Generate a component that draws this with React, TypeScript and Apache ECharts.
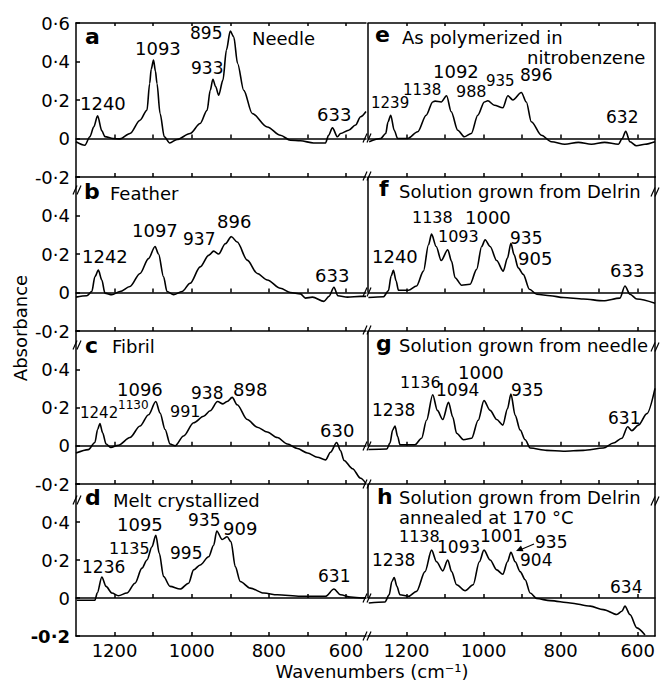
import React, { useEffect, useRef } from "react";
import * as echarts from "echarts";

const FONT = '"DejaVu Sans", "Liberation Sans", sans-serif';

// Spectra: [wavenumber (cm-1), absorbance]
const specA = [[1300,-0.017],[1277,-0.035],[1264,0.009],[1254,0.06],[1244,0.118],[1233,0.04],[1225,0.01],[1204,0.0],[1186,-0.002],[1160,0.026],[1134,0.095],[1116,0.147],[1109,0.286],[1105,0.36],[1099,0.407],[1094,0.35],[1090,0.286],[1082,0.13],[1071,0.009],[1057,-0.023],[1038,-0.005],[1004,0.026],[978,0.078],[960,0.147],[952,0.25],[945,0.308],[938,0.27],[930,0.225],[919,0.303],[910,0.459],[900,0.558],[891,0.528],[881,0.39],[865,0.25],[843,0.13],[804,0.06],[770,0.017],[744,-0.009],[718,-0.012],[684,-0.023],[653,-0.023],[645,0.017],[635,0.055],[622,0.009],[614,0.026],[593,0.043],[575,0.07],[562,0.113],[548,0.14]];
const specB = [[1300,-0.024],[1272,-0.017],[1259,0.005],[1251,0.082],[1242,0.116],[1233,0.065],[1225,-0.003],[1207,-0.012],[1186,0.005],[1160,0.031],[1134,0.099],[1112,0.176],[1095,0.239],[1086,0.2],[1073,0.082],[1064,0.005],[1047,-0.012],[1025,0.005],[1004,0.048],[978,0.133],[956,0.193],[943,0.215],[930,0.2],[913,0.253],[897,0.29],[882,0.262],[856,0.168],[830,0.099],[804,0.065],[770,0.022],[744,0],[718,-0.007],[705,-0.029],[687,-0.024],[657,-0.046],[644,-0.02],[631,0.027],[621,-0.017],[596,-0.024],[562,-0.02],[548,-0.02]];
const specC = [[1300,-0.038],[1268,-0.02],[1251,0.017],[1244,0.085],[1238,0.116],[1231,0.068],[1222,0.009],[1210,-0.009],[1190,0.003],[1160,0.043],[1134,0.103],[1112,0.162],[1093,0.231],[1082,0.171],[1069,0.085],[1056,0.009],[1043,0],[1021,0.051],[995,0.12],[969,0.154],[952,0.183],[933,0.231],[919,0.219],[908,0.231],[895,0.253],[882,0.214],[856,0.137],[830,0.097],[804,0.072],[778,0.043],[752,0.009],[726,-0.014],[700,-0.038],[674,-0.06],[653,-0.074],[640,-0.034],[624,0.017],[614,-0.026],[605,-0.077],[583,-0.12],[562,-0.17],[548,-0.198]];
const specD = [[1298,-0.012],[1251,-0.012],[1245,0.026],[1233,0.11],[1222,0.061],[1207,0.026],[1190,0.012],[1168,0.026],[1147,0.078],[1129,0.157],[1116,0.2],[1103,0.27],[1093,0.33],[1084,0.235],[1073,0.113],[1056,0.061],[1030,0.047],[1008,0.078],[995,0.148],[978,0.174],[956,0.217],[943,0.278],[935,0.353],[921,0.308],[908,0.322],[898,0.296],[887,0.165],[874,0.087],[848,0.052],[813,0.026],[778,0.017],[718,0.009],[653,0.009],[631,0.047],[614,0.017],[588,0.005],[560,0.0],[548,0.003]];
const specE = [[1297,-0.017],[1267,0.0],[1254,0.026],[1248,0.087],[1241,0.121],[1232,0.043],[1223,0],[1197,0],[1171,0.035],[1149,0.121],[1132,0.19],[1126,0.194],[1110,0.19],[1096,0.222],[1084,0.139],[1067,0.043],[1050,0.009],[1032,0.026],[1015,0.121],[998,0.19],[989,0.196],[972,0.173],[950,0.16],[937,0.222],[924,0.2],[902,0.239],[889,0.19],[876,0.087],[850,0.017],[824,-0.017],[789,-0.03],[754,-0.02],[720,-0.03],[686,-0.02],[650,-0.03],[640,0],[631,0.038],[620,-0.017],[603,-0.038],[581,-0.03],[555,-0.017]];
const specF = [[1299,-0.026],[1260,-0.022],[1247,0.009],[1240,0.085],[1234,0.115],[1227,0.06],[1221,0.012],[1195,0.012],[1174,0.034],[1156,0.111],[1143,0.248],[1135,0.303],[1123,0.239],[1110,0.166],[1093,0.222],[1083,0.162],[1074,0.077],[1057,0.038],[1035,0.043],[1018,0.12],[1005,0.239],[996,0.274],[983,0.239],[966,0.166],[949,0.111],[938,0.179],[929,0.256],[921,0.197],[910,0.128],[897,0.094],[881,0.017],[862,-0.009],[827,-0.017],[793,-0.026],[741,-0.034],[689,-0.043],[646,-0.029],[633,0.034],[620,-0.009],[602,-0.034],[555,-0.056]];
const specG = [[1299,-0.02],[1251,-0.017],[1243,0.014],[1236,0.082],[1230,0.103],[1223,0.048],[1217,0.005],[1178,0.005],[1161,0.039],[1148,0.133],[1132,0.267],[1120,0.185],[1106,0.137],[1091,0.227],[1080,0.15],[1070,0.065],[1052,0.031],[1031,0.039],[1014,0.133],[999,0.236],[983,0.185],[966,0.137],[950,0.108],[938,0.193],[929,0.27],[918,0.159],[905,0.082],[892,0.031],[879,-0.012],[836,-0.024],[793,-0.029],[741,-0.024],[689,-0.012],[663,0.014],[641,0.039],[626,0.099],[615,0.079],[598,0.108],[576,0.168],[555,0.3]];
const specH = [[1298,-0.026],[1256,-0.021],[1245,0.017],[1238,0.087],[1232,0.108],[1225,0.061],[1217,0.017],[1195,0.009],[1174,0.035],[1152,0.139],[1135,0.252],[1122,0.191],[1106,0.143],[1093,0.2],[1083,0.139],[1070,0.07],[1048,0.038],[1027,0.07],[1011,0.191],[999,0.252],[983,0.2],[966,0.148],[950,0.125],[938,0.191],[929,0.24],[918,0.191],[905,0.139],[892,0.096],[879,0.026],[862,-0.003],[827,-0.014],[775,-0.026],[723,-0.043],[689,-0.061],[654,-0.087],[641,-0.07],[633,-0.043],[620,-0.087],[602,-0.157],[581,-0.195]];

const SPECTRA = [specA, specB, specC, specD, specE, specF, specG, specH];

const X_TICKS = [1200, 1100, 1000, 900, 800, 700, 600];
const X_TICK_LABELS = [1200, 1000, 800, 600];

const LETTERS = ["a", "b", "c", "d", "e", "f", "g", "h"];
const TITLES = ["Needle", "Feather", "Fibril", "Melt crystallized", "As polymerized in", "Solution grown from Delrin", "Solution grown from needle", "Solution grown from Delrin"];
const SUBTITLES = ["", "", "", "", "nitrobenzene", "", "", "annealed at 170 °C"];

const PEAKS = [
  ["1240", "1093", "895", "933", "633"],
  ["1242", "1097", "937", "896", "633"],
  ["1242", "1130", "1096", "991", "938", "898", "630"],
  ["1095", "935", "909", "1135", "995", "1236", "631"],
  ["1239", "1138", "1092", "988", "935", "896", "632"],
  ["1138", "1000", "1093", "935", "1240", "905", "633"],
  ["1000", "1136", "1094", "935", "1238", "631"],
  ["1138", "1093", "1001", "935", "904", "1238", "634"],
];

const Y_TITLE = "Absorbance";
const X_TITLE = "Wavenumbers (cm⁻¹)";

// ---------- layout (pixels) ----------
const COLS = [{ left: 76, width: 290, min: 548 }, { left: 368, width: 287, min: 555 }];
const ROWS = [{ top: 23, height: 154 }, { top: 177, height: 154 }, { top: 331, height: 153 }, { top: 484, height: 152 }];
const LETTER_POS = [[85, 36], [84, 191], [85, 345], [85, 497], [375, 34.5], [379, 188], [376, 343], [377, 496]];
const TITLE_POS = [[252, 38], [110, 193], [112, 346], [113, 500], [402, 37], [399, 191], [399, 345], [399, 497]];
const SUBTITLE_POS = [null, null, null, null, [527, 57], null, null, [399, 517]];
const PEAK_POS = [
  [[80, 103, 18], [135, 48.5, 18], [190, 33, 17], [191, 68, 17], [317, 114, 18]],
  [[82, 256, 18], [132, 230, 18], [183, 239, 17], [217, 221, 18], [315, 275, 18]],
  [[80, 413, 15], [118, 405, 12], [117, 389, 18], [170, 411, 16], [191, 393, 17], [233, 389, 18], [320, 430, 18]],
  [[117, 524, 18], [188, 520, 17], [223, 528, 18], [109, 548, 16], [170, 553, 17], [82, 567, 17], [318, 576, 17]],
  [[371, 103, 15], [403, 90, 15], [433, 71, 18], [456, 91, 16], [486, 81, 15], [520, 75, 17], [606, 116.5, 17]],
  [[412, 217, 16], [465, 217, 18], [438, 236, 16], [510, 238, 17], [372, 256, 18], [518, 258, 18], [610, 270, 18]],
  [[458, 372, 18], [400, 382, 16], [436, 390, 17], [511, 390, 17], [372, 410, 17], [608, 418, 17]],
  [[399, 536, 16], [437, 547, 17], [480, 536, 17], [535, 542, 17], [520, 560, 17], [372, 560, 17], [610, 587, 17]],
];
const BREAKS = [
  [367, 138], [367, 292], [367, 446], [367, 598],
  [367, 176], [367, 330], [367, 484], [367, 636],
  [77, 190], [77, 345], [77, 500],
  [655, 192], [655, 347], [655, 501],
];

const BLACK = "#000";
const LINE = { color: BLACK, width: 1.5 };
const TICK = { color: BLACK, width: 1.5 };

function fmtY(v: number) {
  if (Math.abs(v) < 1e-9) return "0";
  return (v < 0 ? "-" : "") + "0·" + Math.round(Math.abs(v) * 10);
}

function buildOption() {
  const grid: any[] = [];
  const xAxis: any[] = [];
  const yAxis: any[] = [];
  const series: any[] = [];
  for (let c = 0; c < 2; c++) {
    for (let r = 0; r < 4; r++) {
      const i = c * 4 + r;
      const col = COLS[c];
      const row = ROWS[r];
      grid.push({ left: col.left, top: row.top, width: col.width, height: row.height, outerBoundsMode: "none" });
      const base = {
        gridIndex: i, type: "value", inverse: true, min: col.min, max: 1300,
        splitLine: { show: false },
      };
      const bottomIdx = xAxis.length;
      xAxis.push({
        ...base, position: "bottom",
        axisLine: { show: true, onZero: false, lineStyle: LINE },
        axisTick: { show: true, inside: true, length: 4, customValues: X_TICKS, lineStyle: TICK },
        axisLabel: r === 3
          ? { show: true, customValues: X_TICK_LABELS, color: BLACK, fontSize: 18, fontFamily: FONT, margin: 5, formatter: (v: number) => String(v) }
          : { show: false },
      });
      xAxis.push({
        ...base, position: "top",
        axisLine: { show: true, onZero: true, lineStyle: LINE },
        axisTick: { show: true, inside: false, length: 4, customValues: X_TICKS, lineStyle: TICK },
        axisLabel: { show: false },
      });
      if (r === 0) {
        xAxis.push({
          ...base, position: "top",
          axisLine: { show: true, onZero: false, lineStyle: LINE },
          axisTick: { show: true, inside: true, length: 3, customValues: X_TICKS, lineStyle: TICK },
          axisLabel: { show: false },
        });
      }
      if (c === 0) {
        yAxis.push({
          gridIndex: i, type: "value", min: -0.2, max: 0.6, interval: 0.2, position: "left",
          splitLine: { show: false },
          axisLine: { show: true, onZero: false, lineStyle: LINE },
          axisTick: { show: true, inside: true, length: 4, lineStyle: LINE },
          axisLabel: {
            show: true, color: BLACK, fontSize: 18, fontFamily: FONT, margin: 6,
            formatter: (v: number) => {
              if (r > 0 && v > 0.55) return "";
              const s = fmtY(v);
              return r === 3 && v < 0 ? "{b|" + s + "}" : s;
            },
            rich: { b: { fontWeight: "bold", fontSize: 18, fontFamily: FONT, color: BLACK } },
          },
        });
      } else {
        yAxis.push({
          gridIndex: i, type: "value", min: -0.2, max: 0.6, interval: 0.2, position: "right",
          splitLine: { show: false },
          axisLine: { show: true, onZero: false, lineStyle: LINE },
          axisTick: { show: false },
          axisLabel: { show: false },
        });
      }
      const s: any = {
        type: "line", xAxisIndex: bottomIdx, yAxisIndex: i, data: SPECTRA[i],
        symbol: "none", showSymbol: false, smooth: 0.3, smoothMonotone: "x",
        lineStyle: { color: BLACK, width: 1.6 }, silent: true,
      };
      if (c === 1) {
        s.markLine = {
          silent: true, symbol: ["none", "none"], label: { show: false },
          lineStyle: { color: BLACK, width: 1.5, type: "solid" },
          data: [[{ coord: [1300, 0] }, { coord: [1300, 0.6] }]],
        };
      }
      series.push(s);
    }
  }

  const graphic: any[] = [];
  const txt = (text: string, x: number, y: number, size: number, bold = false) => ({
    type: "text", x, y, silent: true,
    style: { text, fontSize: size, fontFamily: FONT, fontWeight: bold ? "bold" : "normal", fill: BLACK, textAlign: "left", textVerticalAlign: "middle" },
  });
  for (let i = 0; i < 8; i++) {
    graphic.push(txt(LETTERS[i], LETTER_POS[i][0], LETTER_POS[i][1], 22, true));
    graphic.push(txt(TITLES[i], TITLE_POS[i][0], TITLE_POS[i][1], 18));
    const sp = SUBTITLE_POS[i];
    if (sp && SUBTITLES[i]) graphic.push(txt(SUBTITLES[i], sp[0], sp[1], 18));
    PEAKS[i].forEach((p, k) => {
      const pos = PEAK_POS[i][k];
      graphic.push(txt(p, pos[0], pos[1], pos[2]));
    });
  }
  graphic.push({
    type: "text", x: 20, y: 328, rotation: Math.PI / 2, silent: true,
    style: { text: Y_TITLE, fontSize: 18, fontFamily: FONT, fill: BLACK, textAlign: "center", textVerticalAlign: "middle" },
  });
  graphic.push({
    type: "text", x: 372, y: 671, silent: true,
    style: { text: X_TITLE, fontSize: 18, fontFamily: FONT, fill: BLACK, textAlign: "center", textVerticalAlign: "middle" },
  });
  BREAKS.forEach(([cx, cy]) => {
    [-2, 2].forEach((o) => {
      graphic.push({
        type: "line", silent: true,
        shape: { x1: cx + o - 2, y1: cy + 4.5, x2: cx + o + 2, y2: cy - 4.5 },
        style: { stroke: BLACK, lineWidth: 1.2 },
      });
    });
  });
  graphic.push({ type: "line", silent: true, shape: { x1: 534, y1: 544, x2: 521, y2: 549.5 }, style: { stroke: BLACK, lineWidth: 1.2 } });
  graphic.push({ type: "polygon", silent: true, shape: { points: [[516, 551], [523.5, 551.2], [521, 545.5]] }, style: { fill: BLACK } });

  return {
    animation: false,
    backgroundColor: "#fff",
    textStyle: { fontFamily: FONT },
    grid, xAxis, yAxis, series, graphic,
  };
}

export default function App() {
  const ref = useRef<HTMLDivElement>(null);
  useEffect(() => {
    if (!ref.current) return;
    const chart = echarts.init(ref.current, undefined, { renderer: "svg" });
    chart.setOption(buildOption() as any);
    return () => chart.dispose();
  }, []);
  return <div ref={ref} style={{ position: "fixed", left: 0, top: 0, width: 661, height: 681, background: "#fff" }} />;
}
